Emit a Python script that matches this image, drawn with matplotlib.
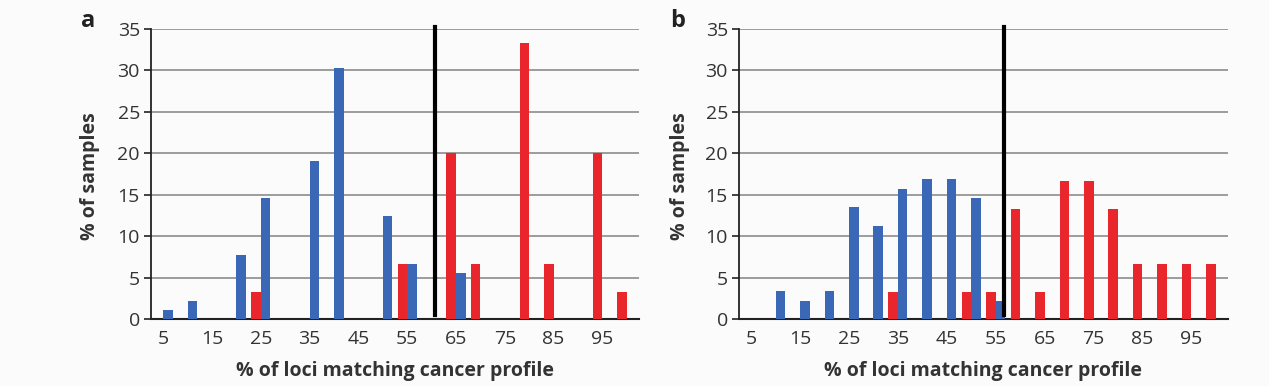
import matplotlib
matplotlib.use("Agg")
import numpy as np
import matplotlib.pyplot as plt

# % of loci matching cancer profile, bins 5..100
bins = [5, 10, 15, 20, 25, 30, 35, 40, 45, 50, 55, 60, 65, 70, 75, 80, 85, 90, 95, 100]
tick_labels = ["5", "15", "25", "35", "45", "55", "65", "75", "85", "95"]

# panel a
a_red = [0, 0, 0, 0, 3.3, 0, 0, 0, 0, 0, 6.7, 0, 20.0, 6.7, 0, 33.3, 6.7, 0, 20.0, 3.3]
a_blue = [1.1, 2.2, 0, 7.8, 14.6, 0, 19.1, 30.3, 0, 12.4, 6.7, 0, 5.6, 0, 0, 0, 0, 0, 0, 0]
a_cut = 12.13

# panel b
b_red = [0, 0, 0, 0, 0, 0, 3.3, 0, 0, 3.3, 3.3, 13.3, 3.3, 16.7, 16.7, 13.3, 6.7, 6.7, 6.7, 6.7]
b_blue = [0, 3.4, 2.2, 3.4, 13.5, 11.2, 15.7, 16.9, 16.9, 14.6, 2.2, 0, 0, 0, 0, 0, 0, 0, 0, 0]
b_cut = 11.33

RED = "#e8262c"
BLUE = "#3b68b6"
plt.rcParams["font.family"] = ["Open Sans", "DejaVu Sans"]

fig = plt.figure(figsize=(12.69, 3.86), dpi=100)
fig.patch.set_facecolor("#fbfbfb")

H = 386
W = 1269
panels = [
    ("a", 151, 639, a_red, a_blue, a_cut, 90),
    ("b", 739, 1228, b_red, b_blue, b_cut, 680),
]
pos = np.arange(1, len(bins) + 1)
bw = 0.39
for letter, x0, x1, red, blue, cut, lx in panels:
    ax = fig.add_axes([x0 / W, (H - 319.3) / H, (x1 - x0) / W, 290.3 / H])
    ax.set_facecolor("#fbfbfb")
    ax.bar(pos - bw / 2, red, width=bw, color=RED, zorder=3)
    ax.bar(pos + bw / 2, blue, width=bw, color=BLUE, zorder=3)
    ax.plot([cut, cut], [0.5, 35.3], color="black", lw=3, zorder=4, clip_on=False)
    ax.set_xlim(0.5, 20.5)
    ax.set_ylim(0, 35)
    ax.set_yticks(range(0, 36, 5))
    ax.set_xticks(pos[::2])
    ax.set_xticklabels(tick_labels)
    ax.yaxis.grid(True, color="#8c8c8c", lw=1.2, zorder=0)
    ax.set_axisbelow(True)
    for s in ["top", "right"]:
        ax.spines[s].set_visible(False)
    ax.spines["left"].set_color("#222222")
    ax.spines["left"].set_linewidth(1.3)
    ax.spines["bottom"].set_color("#222222")
    ax.spines["bottom"].set_linewidth(1.5)
    ax.tick_params(axis="x", length=0, pad=8, labelsize=14, labelcolor="#333333")
    ax.tick_params(axis="y", length=5, width=1.2, color="#222222", pad=3,
                   labelsize=14, labelcolor="#333333")
    ax.set_xlabel("% of loci matching cancer profile", fontsize=14,
                  fontweight="bold", color="#333333", labelpad=9)
    fig.text(lx / W, 1 - 176 / H, "% of samples", rotation=90, ha="center",
             va="center", fontsize=14, fontweight="bold", color="#333333")
    fig.text((lx - 2) / W, 1 - 21 / H, letter, ha="center", va="center",
             fontsize=17, fontweight="bold", color="#222222")

fig.savefig("out.png", dpi=100, facecolor=fig.get_facecolor())
